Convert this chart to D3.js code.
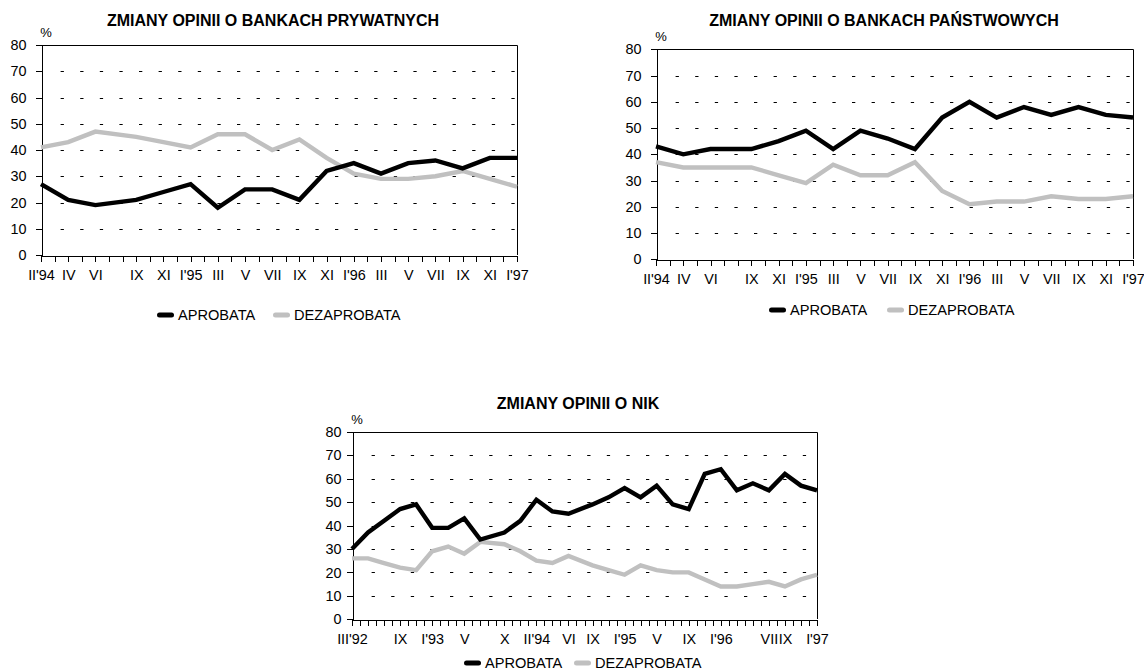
<!DOCTYPE html>
<html>
<head>
<meta charset="utf-8">
<script src="https://cdn.jsdelivr.net/npm/d3@7"></script>
<style>
  html, body { margin: 0; padding: 0; background: #fff; }
  svg { display: block; }
</style>
</head>
<body>
<script>
// ---------------- DATA ----------------
// Bank charts (private & state banks): survey months and axis labels
const bankDates = ["1994-02","1994-04","1994-06","1994-09","1994-11","1995-01","1995-03","1995-05","1995-07","1995-09","1995-11","1996-01","1996-03","1996-05","1996-07","1996-09","1996-11","1997-01"];
const bankTickLabels = ["II'94","IV","VI","IX","XI","I'95","III","V","VII","IX","XI","I'96","III","V","VII","IX","XI","I'97"];

const privateApproval    = [27,21,19,21,24,27,18,25,25,21,32,35,31,35,36,33,37,37];
const privateDisapproval = [41,43,47,45,43,41,46,46,40,44,37,31,29,29,30,32,29,26];

const stateApproval    = [43,40,42,42,45,49,42,49,46,42,54,60,54,58,55,58,55,54];
const stateDisapproval = [37,35,35,35,32,29,36,32,32,37,26,21,22,22,24,23,23,24];

// NIK chart
const nikDates = ["1992-03","1992-05","1992-07","1992-09","1992-11","1993-01","1993-03","1993-05","1993-07","1993-10","1993-12","1994-02","1994-04","1994-06","1994-09","1994-11","1995-01","1995-03","1995-05","1995-07","1995-09","1995-11","1996-01","1996-03","1996-05","1996-07","1996-09","1996-11","1997-01"];
const nikApproval    = [30,37,42,47,49,39,39,43,34,37,42,51,46,45,49,52,56,52,57,49,47,62,64,55,58,55,62,57,55];
const nikDisapproval = [26,26,24,22,21,29,31,28,33,32,29,25,24,27,23,21,19,23,21,20,20,17,14,14,15,16,14,17,19];
const nikTickDates  = ["1992-03","1992-09","1993-01","1993-05","1993-10","1994-02","1994-06","1994-09","1995-01","1995-05","1995-09","1996-01","1996-07","1996-09","1997-01"];
const nikTickLabels = ["III'92","IX","I'93","V","X","II'94","VI","IX","I'95","V","IX","I'96","VII","IX","I'97"];

const yTicks = [0,10,20,30,40,50,60,70,80];
const seriesNames = ["APROBATA","DEZAPROBATA"];
const titles = ["ZMIANY OPINII O BANKACH PRYWATNYCH","ZMIANY OPINII O BANKACH PAŃSTWOWYCH","ZMIANY OPINII O NIK"];

// ---------------- STYLE ----------------
const FONT = "'Liberation Sans', Arial, Helvetica, sans-serif";
const BLACK = "#000000";
const GREY = "#c0c0c0";
const parse = d3.timeParse("%Y-%m");

const svg = d3.select("body").append("svg")
  .attr("width", 1144).attr("height", 670)
  .style("font-family", FONT);

function drawChart(c) {
  const g = svg.append("g");
  const start = parse(c.dates[0]);
  const mi = s => d3.timeMonth.count(start, parse(s));
  const n = mi(c.dates[c.dates.length - 1]);

  const x = d3.scaleLinear().domain([0, n]).range([c.x0, c.x1]);
  const y = d3.scaleLinear().domain([0, 80]).range([c.yB, c.yT]);

  // dashed gridlines
  g.append("g").selectAll("line")
    .data(yTicks.filter(t => t > 0 && t < 80))
    .join("line")
    .attr("x1", c.x0 + 19.6).attr("x2", c.x1)
    .attr("y1", d => Math.round(y(d)) + 0.5).attr("y2", d => Math.round(y(d)) + 0.5)
    .attr("stroke", BLACK).attr("stroke-width", 1)
    .attr("stroke-dasharray", "3.3,16.3");

  // top and right border
  const yt = Math.round(y(80)) + 0.5, xr = Math.round(x(n)) + 0.5;
  g.append("path")
    .attr("d", `M${Math.round(x(0))},${yt}H${xr}V${Math.round(y(0))}`)
    .attr("fill", "none").attr("stroke", BLACK).attr("stroke-width", 1);

  // y axis
  const yAxis = d3.axisLeft(y).tickValues(yTicks).tickSize(6).tickSizeOuter(0).tickPadding(c.yPad);
  const ya = g.append("g").attr("transform", `translate(${Math.round(x(0)) + 0.5},0)`).call(yAxis);
  ya.selectAll("text").style("font-family", FONT).style("font-size", "14.4px").attr("fill", BLACK);
  ya.selectAll("line,path").attr("stroke", BLACK).attr("shape-rendering", "crispEdges");

  // x axis (monthly ticks)
  const labelMap = new Map(c.tickDates.map((d, i) => [mi(d), c.tickLabels[i]]));
  const xAxis = d3.axisBottom(x).tickValues(d3.range(0, n + 1))
    .tickFormat(d => labelMap.has(d) ? labelMap.get(d) : "")
    .tickSize(6).tickSizeOuter(0).tickPadding(8);
  const xa = g.append("g").attr("transform", `translate(0,${Math.round(y(0)) + 0.5})`).call(xAxis);
  xa.selectAll("text").style("font-family", FONT).style("font-size", "14.4px").attr("fill", BLACK);
  xa.selectAll("line,path").attr("stroke", BLACK).attr("shape-rendering", "crispEdges");

  // "%" unit label
  g.append("text").attr("x", x(0) + 5).attr("y", c.yT - 8)
    .attr("text-anchor", "middle").style("font-size", "13px").text("%");

  // lines
  const series = [
    { values: c.approval, color: BLACK },
    { values: c.disapproval, color: GREY }
  ];
  const line = d3.line().x(d => x(d.m)).y(d => y(d.v));
  // draw grey first, black on top
  [series[1], series[0]].forEach(s => {
    const pts = c.dates.map((d, i) => ({ m: mi(d), v: s.values[i] }));
    g.append("path").datum(pts)
      .attr("d", line).attr("fill", "none")
      .attr("stroke", s.color).attr("stroke-width", 4.4)
      .attr("stroke-linejoin", "miter").attr("stroke-miterlimit", 3);
  });

  // title
  g.append("text").attr("x", c.titleX).attr("y", c.titleY)
    .attr("text-anchor", "middle").attr("dominant-baseline", "central")
    .style("font-size", "16px").style("font-weight", "bold").text(c.title);

  // legend
  const lg = g.append("g");
  const items = [
    { name: seriesNames[0], color: BLACK, sx: c.leg[0] },
    { name: seriesNames[1], color: GREY, sx: c.leg[1] }
  ];
  items.forEach(it => {
    lg.append("line").attr("x1", it.sx + 2.5).attr("x2", it.sx + 14.5)
      .attr("y1", c.legY).attr("y2", c.legY)
      .attr("stroke", it.color).attr("stroke-width", 5).attr("stroke-linecap", "round");
    lg.append("text").attr("x", it.sx + 21).attr("y", c.legY)
      .attr("dominant-baseline", "central").style("font-size", "14.6px").text(it.name);
  });
}

drawChart({
  dates: bankDates, approval: privateApproval, disapproval: privateDisapproval,
  tickDates: bankDates, tickLabels: bankTickLabels, title: titles[0],
  x0: 41, x1: 517, yT: 45, yB: 255, yPad: 9,
  titleX: 273, titleY: 20, leg: [157, 273], legY: 315
});
drawChart({
  dates: bankDates, approval: stateApproval, disapproval: stateDisapproval,
  tickDates: bankDates, tickLabels: bankTickLabels, title: titles[1],
  x0: 656, x1: 1133, yT: 49.3, yB: 259.3, yPad: 9,
  titleX: 884, titleY: 20, leg: [769, 887], legY: 310
});
drawChart({
  dates: nikDates, approval: nikApproval, disapproval: nikDisapproval,
  tickDates: nikTickDates, tickLabels: nikTickLabels, title: titles[2],
  x0: 352, x1: 817, yT: 431.7, yB: 619.3, yPad: 5,
  titleX: 578, titleY: 403, leg: [464, 574], legY: 663
});
</script>
</body>
</html>
